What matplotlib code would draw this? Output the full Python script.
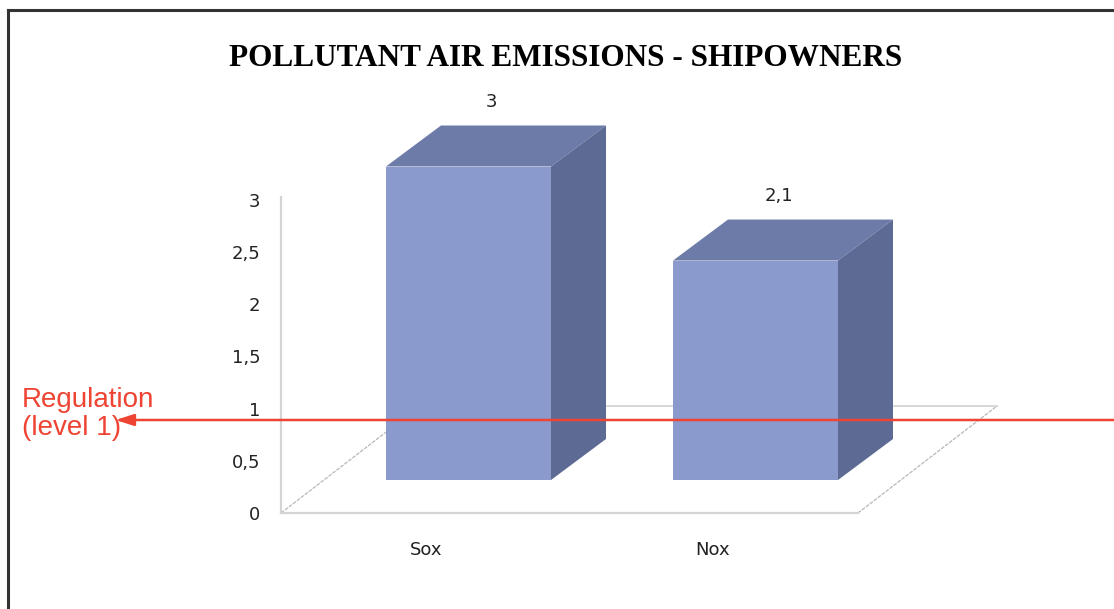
import matplotlib.pyplot as plt
from matplotlib.lines import Line2D

categories = ["Sox", "Nox"]
values = [3, 2.1]
value_labels = ["3", "2,1"]
tick_values = [0, 0.5, 1, 1.5, 2, 2.5, 3]
tick_labels = ["0", "0,5", "1", "1,5", "2", "2,5", "3"]
regulation_level = 0.89

title = "POLLUTANT AIR EMISSIONS - SHIPOWNERS"
regulation_text = "Regulation\n(level 1)"

# size of one unit in pixels
unit_x = 287
unit_y = 104.5
W, H = 1114, 609

front_col = "#8a9acc"
top_col = "#6d7ba8"
side_col = "#5d6a94"
floor_col = "#d4d4d4"
red = "#ee4433"
text_col = "#222222"

bar_w = 165 / unit_x
bar_base = 33 / unit_y
depth_x = 55 / unit_x
depth_y = 41 / unit_y
floor_left = -187.5 / unit_x
floor_right = 389.5 / unit_x
floor_dx = 139 / unit_x
floor_dy = 107 / unit_y

fig = plt.figure(figsize=(W / 100, H / 100), dpi=100)
ax = fig.add_axes([0, 0, 1, 1])
ax.set_xlim(-468.5 / unit_x, (W - 468.5) / unit_x)
ax.set_ylim((513 - H) / unit_y, 513 / unit_y)
ax.patch.set_alpha(0)

# floor
ax.plot([floor_left, floor_left + floor_dx], [0, floor_dy], color="#b8b8b8", lw=0.9, ls=(0, (3, 1)), zorder=1)
ax.plot([floor_right, floor_right + floor_dx], [0, floor_dy], color="#b8b8b8", lw=0.9, ls=(0, (3, 1)), zorder=1)
ax.plot([floor_left + floor_dx, floor_right + floor_dx], [floor_dy, floor_dy], color=floor_col, lw=1.3, zorder=1)

# bars with fake depth
xs = list(range(len(values)))
ax.bar(xs, values, width=bar_w, bottom=bar_base, color=front_col, zorder=3)
for x, v, lab in zip(xs, values, value_labels):
    l = x - bar_w / 2
    r = x + bar_w / 2
    top = bar_base + v
    ax.fill([l, l + depth_x, r + depth_x, r], [top, top + depth_y, top + depth_y, top], color=top_col, lw=0, zorder=3)
    ax.fill([r, r + depth_x, r + depth_x, r], [bar_base, bar_base + depth_y, top + depth_y, top], color=side_col, lw=0, zorder=3)
    ax.annotate(lab, (x + depth_x / 2, top + depth_y), xytext=(-3, 17), textcoords="offset points",
                ha="center", va="center", fontsize=13, color=text_col)

# axes
for s in ["top", "right"]:
    ax.spines[s].set_visible(False)
ax.spines["left"].set_position(("data", floor_left))
ax.spines["left"].set_bounds(0, 3.02)
ax.spines["bottom"].set_position(("data", 0))
ax.spines["bottom"].set_bounds(floor_left, floor_right)
ax.spines["left"].set_color(floor_col)
ax.spines["bottom"].set_color(floor_col)
ax.spines["left"].set_linewidth(1.6)
ax.spines["bottom"].set_linewidth(1.6)
ax.set_yticks(tick_values, tick_labels)
ax.tick_params(axis="y", length=0, pad=15, labelsize=13, labelcolor=text_col)
ax.set_xticks([x - 42.5 / unit_x for x in xs], categories)
ax.tick_params(axis="x", length=0, pad=20, labelsize=13, labelcolor=text_col)

# regulation arrow
ax.annotate("", xy=(-353 / unit_x, regulation_level), xytext=(W / unit_x, regulation_level),
            arrowprops=dict(arrowstyle="-|>,head_length=1.1,head_width=0.35", color=red, lw=1.8, shrinkA=0, shrinkB=0),
            zorder=5)
ax.text(-447 / unit_x, regulation_level + 6 / unit_y, regulation_text, color=red, fontsize=20, linespacing=1.12,
        family="Liberation Sans", ha="left", va="center", stretch="condensed", zorder=5)

# title
fig.text(566 / W, 1 - 59 / H, title, family="Liberation Serif", weight="bold", fontsize=22.5,
         ha="center", va="center", color="black")

# frame
fig.add_artist(Line2D([8 / W, 8 / W], [0, 1 - 10 / H], color="#333333", lw=2.2))
fig.add_artist(Line2D([8 / W, 1], [1 - 10 / H, 1 - 10 / H], color="#333333", lw=2.2))

fig.savefig("out.png", dpi=100)
